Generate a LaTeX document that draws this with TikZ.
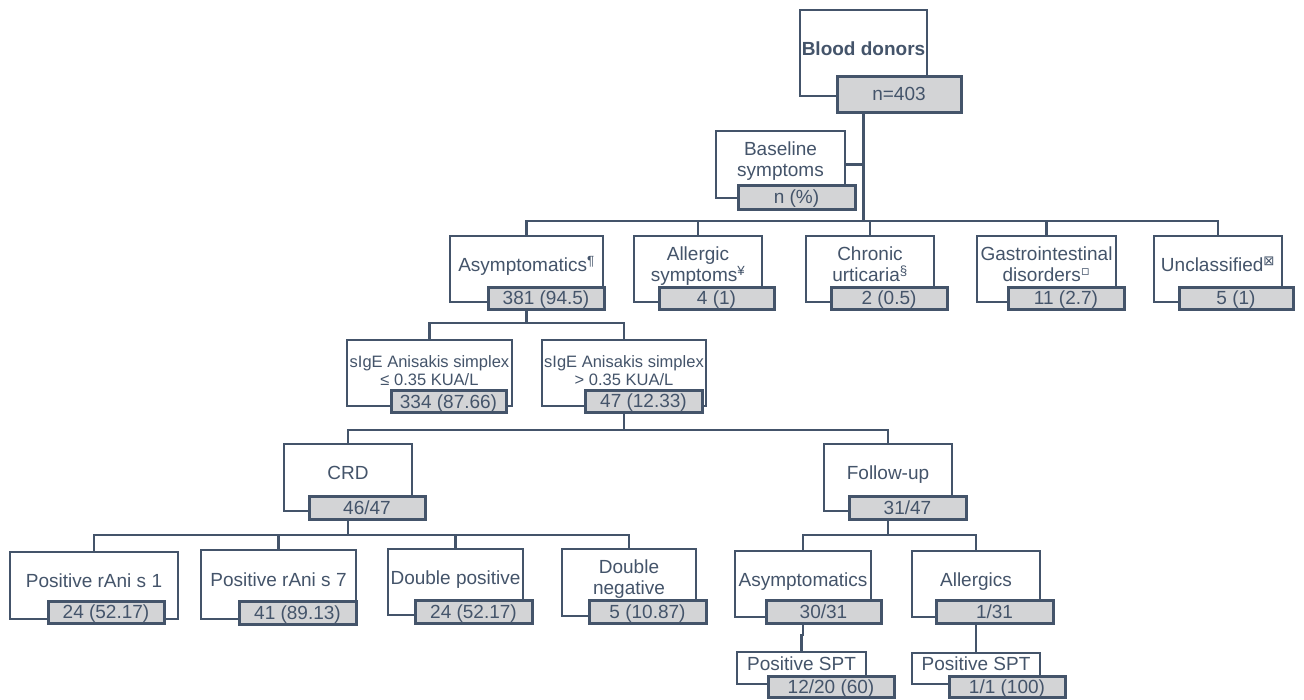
\documentclass[tikz,border=0pt]{standalone}
\usepackage{fontspec}
\setmainfont{Liberation Sans}
\newfontfamily\symfont{DejaVu Sans}
\usetikzlibrary{backgrounds}
\definecolor{treeLine}{HTML}{44546A}
\definecolor{treeText}{HTML}{44546A}
\definecolor{countFill}{HTML}{D3D4D6}

\begin{document}
\begin{tikzpicture}[x=1pt, y=-1pt,
    boxLabel/.style={rectangle, draw=treeLine, fill=white, line width=1.8pt, text=treeText, align=center, inner sep=0pt, minimum height=66, text height=13pt, text depth=8.4pt, font=\fontsize{19}{21}\selectfont},
    twoLines/.style={text height=30pt, text depth=5.4pt},
    smallLines/.style={text height=30pt, text depth=4.2pt, font=\fontsize{16.5}{18}\selectfont},
    boxCount/.style={rectangle, draw=treeLine, fill=countFill, line width=3pt, text=treeText, inner sep=0pt, minimum width=116, minimum height=22, text height=14pt, text depth=0.5pt, font=\fontsize{19}{21}\selectfont},
    link/.style={draw=treeLine, line width=2.2pt}
  ]
  \useasboundingbox (0,0) rectangle (1304,699);
  % root and baseline
  \node[boxLabel, minimum width=127, minimum height=86] (don) at (863.5,53) {\textbf{Blood donors}};
  \node[boxCount, minimum width=124, minimum height=36] (donN) at (899,94) {n=403};
  \node[boxLabel, twoLines, minimum width=129, minimum height=67] (base) at (780.5,164.5) {Baseline\\symptoms};
  \node[boxCount, minimum width=117, minimum height=24] (baseN) at (796.5,197) {n (\%)};
  % symptom groups
  \node[boxLabel, minimum width=153] (asy) at (526.5,269) {Asymptomatics\textsuperscript{¶}};
  \node[boxCount] (asyN) at (546,298) {381 (94.5)};
  \node[boxLabel, twoLines, minimum width=128] (all) at (698,269) {Allergic\\symptoms\textsuperscript{¥}};
  \node[boxCount, minimum width=115] (allN) at (716.5,298) {4 (1)};
  \node[boxLabel, twoLines, minimum width=128] (chr) at (870,269) {Chronic\\urticaria\textsuperscript{§}};
  \node[boxCount] (chrN) at (889,298) {2 (0.5)};
  \node[boxLabel, twoLines, minimum width=139] (gas) at (1046.5,269) {Gastrointestinal\\disorders\textsuperscript{\symfont ▫}};
  \node[boxCount] (gasN) at (1066,298) {11 (2.7)};
  \node[boxLabel, minimum width=128] (unc) at (1218,269) {Unclassified\textsuperscript{\symfont ⊠}};
  \node[boxCount, minimum width=114] (uncN) at (1236,298) {5 (1)};
  % sIgE split
  \node[boxLabel, smallLines, minimum width=165] (sigL) at (429.5,373) {sIgE Anisakis simplex\\≤ 0.35 KUA/L};
  \node[boxCount, minimum width=115] (sigLN) at (448.5,401.5) {334 (87.66)};
  \node[boxLabel, smallLines, minimum width=164] (sigR) at (624,373) {sIgE Anisakis simplex\\> 0.35 KUA/L};
  \node[boxCount, minimum width=117] (sigRN) at (643.5,401) {47 (12.33)};
  % CRD and follow-up
  \node[boxLabel, minimum width=128, minimum height=67] (crd) at (348,477.5) {CRD};
  \node[boxCount, minimum width=116, minimum height=23] (crdN) at (367,507.5) {46/47};
  \node[boxLabel, minimum width=128, minimum height=67] (fol) at (888,477.5) {Follow-up};
  \node[boxCount, minimum width=117, minimum height=23] (folN) at (907.5,507.5) {31/47};
  % CRD results
  \node[boxLabel, minimum width=168, minimum height=67] (rA1) at (94,585.5) {Positive rAni s 1};
  \node[boxCount] (rA1N) at (106,612) {24 (52.17)};
  \node[boxLabel, minimum width=155, minimum height=69] (rA7) at (278.5,584.5) {Positive rAni s 7};
  \node[boxCount, minimum width=117, minimum height=23] (rA7N) at (297.5,612.5) {41 (89.13)};
  \node[boxLabel, minimum width=135] (dpos) at (455.5,582) {Double positive};
  \node[boxCount, minimum width=117, minimum height=23] (dposN) at (473.5,611.5) {24 (52.17)};
  \node[boxLabel, twoLines, minimum width=134, minimum height=67] (dneg) at (629,582.5) {Double\\negative};
  \node[boxCount, minimum width=117, minimum height=23] (dnegN) at (647.5,611.5) {5 (10.87)};
  % follow-up results
  \node[boxLabel, minimum width=136] (asy2) at (803,584) {Asymptomatics};
  \node[boxCount, minimum width=115, minimum height=23] (asy2N) at (823.5,611.5) {30/31};
  \node[boxLabel, minimum width=128] (all2) at (976,584) {Allergics};
  \node[boxCount, minimum width=117, minimum height=23] (all2N) at (994.5,611.5) {1/31};
  \node[boxLabel, minimum width=129, minimum height=32] (spt1) at (801.5,668) {Positive SPT};
  \node[boxCount, minimum width=126, minimum height=21] (spt1N) at (831,686.5) {12/20 (60)};
  \node[boxLabel, minimum width=128, minimum height=31] (spt2) at (976,668.5) {Positive SPT};
  \node[boxCount, minimum width=116, minimum height=21] (spt2N) at (1007,686.5) {1/1 (100)};
  % connectors
  \begin{scope}[on background layer]
    \draw[link, line width=3pt] (don.south) -- ++(0,124);
    \draw[link] (base.east) -- (base.east -| don.south);
    \foreach \kid in {asy,all,chr,gas,unc}
      \draw[link] (don.south) ++(0,124) -| (\kid.north);
    \draw[link] (asy.south) -- ++(0,20) -| (sigL.north);
    \draw[link] (asy.south) ++(0,20) -| (sigR.north);
    \draw[link] (sigR.south) -- ++(0,23) -| (crd.north);
    \draw[link] (sigR.south) ++(0,23) -| (fol.north);
    \draw[link] (crd.south) -- ++(0,23);
    \foreach \kid in {rA1,rA7,dpos,dneg}
      \draw[link] (crd.south) ++(0,23) -| (\kid.north);
    \draw[link] (fol.south) -- ++(0,23);
    \foreach \kid in {asy2,all2}
      \draw[link] (fol.south) ++(0,23) -| (\kid.north);
    \draw[link] (asy2.south) -- ++(0,17) -| (spt1.north);
    \draw[link] (all2.south) -- (spt2.north);
  \end{scope}
\end{tikzpicture}
\end{document}
